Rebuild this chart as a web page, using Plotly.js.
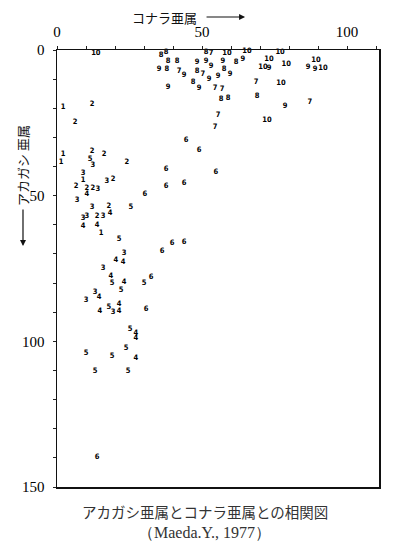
<!DOCTYPE html>
<html>
<head>
<meta charset="utf-8">
<script src="https://cdn.plot.ly/plotly-3.0.1.min.js"></script>
<style>html,body{margin:0;padding:0;background:#fff}#chart{width:400px;height:552px}</style>
</head>
<body>
<div id="chart"></div>
<script>
// コナラ亜属 (x), アカガシ亜属 (y), plotted symbol
var konara = [13.4,35.9,37.6,38.3,41.4,35.2,37.9,42.1,43.8,38.3,51.4,53.1,58.6,65.5,48.3,51.4,53.1,57.2,61.7,64.1,48.3,50.3,52.4,57.6,55.5,59.7,46.9,49.0,54.5,56.9,56.6,59.0,73.1,76.9,71.0,73.1,79.0,89.3,86.6,89.0,91.7,68.6,77.2,69.0,78.6,87.2,72.4,55.5,54.5,44.5,49.0,37.6,54.8,37.6,43.8,39.7,43.8,36.2,30.3,25.5,2.1,12.1,6.2,2.1,1.4,12.1,16.2,11.4,12.4,24.1,9.0,9.0,17.2,19.3,6.6,10.3,12.4,14.1,10.3,6.9,12.1,17.9,18.3,10.3,9.0,13.8,15.9,9.0,13.8,15.2,21.4,23.1,20.3,22.8,15.9,18.6,19.0,23.1,32.4,30.0,22.1,13.1,14.5,10.0,21.4,17.9,19.3,21.4,14.8,30.7,25.2,27.2,27.2,23.8,10.0,19.0,27.2,13.1,24.5,13.8];
var akagashi = [1.0,1.7,0.7,3.8,3.8,6.5,6.5,7.2,8.6,12.7,0.7,1.0,1.0,0.3,4.1,3.8,5.5,3.8,4.1,3.1,7.2,8.2,10.0,6.5,8.9,8.2,11.0,13.0,13.0,13.4,16.8,16.5,3.1,0.7,5.8,6.2,4.8,3.4,5.8,6.5,6.2,11.0,11.3,15.8,19.2,17.9,24.0,22.3,26.4,30.9,34.3,40.9,41.9,46.7,45.7,66.3,65.9,69.0,49.4,53.9,19.6,18.5,24.7,35.7,38.4,34.7,35.7,37.4,39.5,38.4,42.2,44.6,45.0,44.3,46.7,47.4,47.4,47.7,49.4,51.5,53.9,53.6,56.0,57.0,57.7,57.0,57.0,60.4,60.1,62.8,64.9,69.7,72.1,72.8,74.8,77.6,80.0,79.6,77.9,80.0,82.4,83.1,84.8,85.8,87.2,88.2,89.9,89.6,89.6,88.9,95.8,97.2,98.9,102.3,104.0,105.0,105.7,110.2,110.2,139.7];
var symbols = ["10","8","8","8","8","9","8","7","9","9","8","7","10","10","9","9","9","9","8","9","8","7","9","8","9","9","8","9","7","7","8","8","10","10","10","9","10","10","9","9","10","7","10","8","9","7","10","7","7","6","6","6","6","6","6","6","6","6","6","5","1","2","2","1","1","2","2","5","3","2","3","1","3","2","2","2","2","3","4","3","3","2","4","3","3","2","3","4","4","1","5","3","4","4","3","4","5","4","6","5","5","3","4","3","4","5","3","4","4","6","5","4","4","5","5","5","4","5","5","6"];
var tickLabelsX = [0, 50, 100];
var tickLabelsY = [0, 50, 100, 150];

var trace = {
  x: konara, y: akagashi, text: symbols,
  type: 'scatter', mode: 'text',
  textposition: 'middle center',
  textfont: {family: 'DejaVu Sans Condensed', size: 7.5, color: '#000', weight: 'bold'},
  cliponaxis: false, hoverinfo: 'skip', showlegend: false
};

var axisCommon = {
  showgrid: false, zeroline: false, showline: true, mirror: true,
  linecolor: '#111', linewidth: 1.5,
  ticks: 'outside', ticklen: 3, tickwidth: 1, tickcolor: '#222',
  minor: {dtick: 10, ticks: 'outside', ticklen: 3, tickwidth: 1, tickcolor: '#222'},
  tickfont: {family: 'Liberation Serif', size: 15, color: '#000'},
  fixedrange: true
};

var layout = {
  width: 400, height: 552,
  margin: {l: 57, r: 21, t: 50, b: 65},
  paper_bgcolor: '#fff', plot_bgcolor: '#fff',
  xaxis: Object.assign({}, axisCommon, {
    side: 'top', range: [0, 111], tickmode: 'array', tickvals: tickLabelsX,
    ticklabelstandoff: 3
  }),
  yaxis: Object.assign({}, axisCommon, {
    range: [150, 0], tickmode: 'array', tickvals: tickLabelsY,
    ticklabelstandoff: 5
  }),
  annotations: [
    {text: 'コナラ亜属', xref: 'paper', yref: 'paper', x: 0.335, y: 1.0755,
     xanchor: 'center', yanchor: 'middle',
     showarrow: false, font: {family: 'Noto Sans CJK JP', size: 13, color: '#111'}},
    {text: '', xref: 'paper', yref: 'paper', x: 0.584, y: 1.0755, ax: -40, ay: 0,
     showarrow: true, arrowhead: 2, arrowsize: 1, arrowwidth: 1.2, arrowcolor: '#111'},
    {text: 'アカガシ 亜属', xref: 'paper', yref: 'paper', x: -0.1056, y: 0.737,
     xanchor: 'center', yanchor: 'middle',
     textangle: -90, showarrow: false, font: {family: 'Noto Sans CJK JP', size: 13, color: '#111'}},
    {text: '', xref: 'paper', yref: 'paper', x: -0.1056, y: 0.5515, ax: 0, ay: -38,
     showarrow: true, arrowhead: 2, arrowsize: 1, arrowwidth: 1.2, arrowcolor: '#111'},
    {text: 'アカガシ亜属とコナラ亜属との相関図', xref: 'paper', yref: 'paper', x: 0.459, y: -0.057,
     xanchor: 'center', yanchor: 'middle',
     showarrow: false, font: {family: 'Noto Sans CJK JP', size: 14.5, color: '#333'}},
    {text: '（Maeda.Y., 1977）', xref: 'paper', yref: 'paper', x: 0.459, y: -0.103,
     xanchor: 'center', yanchor: 'middle',
     showarrow: false, font: {family: 'Liberation Serif', size: 16, color: '#333'}}
  ]
};

Plotly.newPlot('chart', [trace], layout, {staticPlot: true, displayModeBar: false});
</script>
</body>
</html>
